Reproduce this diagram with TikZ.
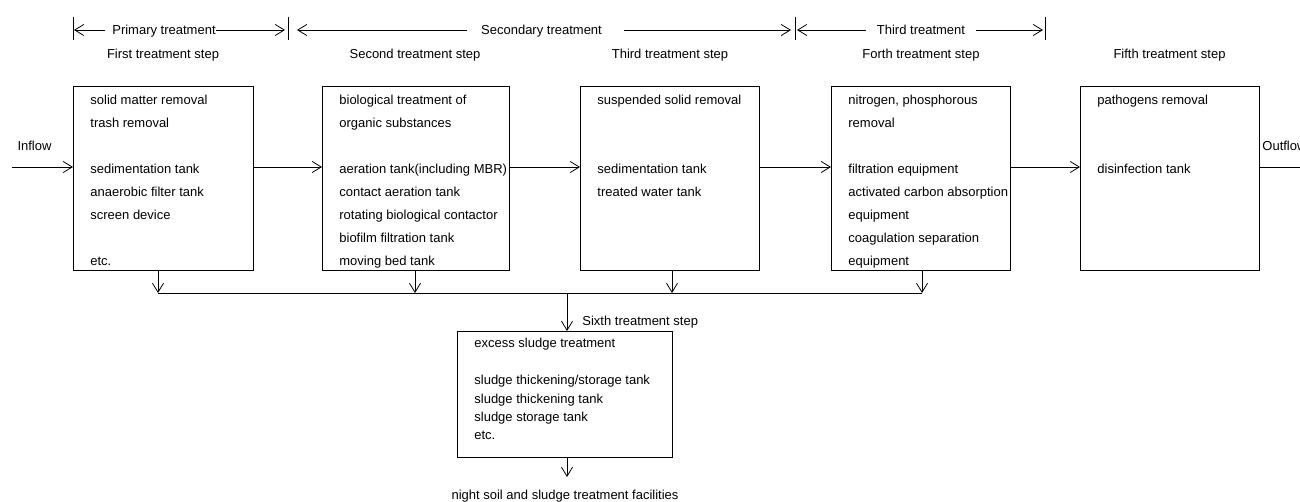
\documentclass[tikz,border=0pt]{standalone}
\usepackage{fontspec}
\setmainfont{Liberation Sans}
\usetikzlibrary{arrows.meta}
\begin{document}
\begin{tikzpicture}[x=1pt,y=-1pt,line width=0.8pt,
  arr/.style={-{Straight Barb[length=9pt,width=11pt]}},
  box/.style={draw,inner sep=0pt,anchor=north west},
  lbl/.style={inner sep=0pt,text height=9.4pt,text depth=0pt,font=\fontsize{13}{15}\selectfont},
  ln/.style={lbl,anchor=west}]
\useasboundingbox (0,0) rectangle (1300,502);

% top brackets
\coordinate (k1) at (73,30);
\coordinate (k2) at (288,30);
\coordinate (k3) at (795,30);
\coordinate (k4) at (1045,30);
\foreach \k in {k1,k2,k3,k4}
  \draw ([yshift=13pt]\k) -- ([yshift=-10pt]\k);
\node[lbl] (prim) at (164,30) {Primary treatment};
\node[lbl] (sec) at (541.5,30) {Secondary treatment};
\node[lbl] (thr) at (921,30) {Third treatment};
\coordinate (s1) at (105,30);
\coordinate (s2) at (467,30);
\coordinate (s3) at (624,30);
\coordinate (s4) at (866,30);
\coordinate (s5) at (976,30);
\draw[arr] (s1) -- ([xshift=1pt]k1);
\draw[arr] (prim.east) -- ([xshift=-3pt]k2);
\draw[arr] (s2) -- ([xshift=9pt]k2);
\draw[arr] (s3) -- ([xshift=-4pt]k3);
\draw[arr] (s4) -- ([xshift=2pt]k3);
\draw[arr] (s5) -- ([xshift=-2pt]k4);

% step labels
\node[lbl] (st1) at (163,54) {First treatment step};
\node[lbl] (st2) at (415,54) {Second treatment step};
\node[lbl] (st3) at (670,54) {Third treatment step};
\node[lbl] (st4) at (921,54) {Forth treatment step};
\node[lbl] (st5) at (1169.5,54) {Fifth treatment step};

% boxes
\node[box,minimum width=180pt,minimum height=184pt] (b1) at (73,86) {};
\node[box,minimum width=187pt,minimum height=184pt] (b2) at (322,86) {};
\node[box,minimum width=179pt,minimum height=184pt] (b3) at (580,86) {};
\node[box,minimum width=179pt,minimum height=184pt] (b4) at (831,86) {};
\node[box,minimum width=179pt,minimum height=184pt] (b5) at (1080,86) {};
\node[box,minimum width=215pt,minimum height=126pt] (b6) at (457,331) {};

% box texts
\foreach \yy/\t [count=\i] in {100/solid matter removal,123/trash removal,169/sedimentation tank,192/anaerobic filter tank,215/screen device,261/etc.}
  \node[ln] (ta\i) at (90,\yy) {\t};
\foreach \yy/\t [count=\i] in {100/biological treatment of,123/organic substances,169/aeration tank(including MBR),192/contact aeration tank,215/rotating biological contactor,238/biofilm filtration tank,261/moving bed tank}
  \node[ln] (tb\i) at (339,\yy) {\t};
\foreach \yy/\t [count=\i] in {100/suspended solid removal,169/sedimentation tank,192/treated water tank}
  \node[ln] (tc\i) at (597,\yy) {\t};
\foreach \yy/\t [count=\i] in {100/{nitrogen, phosphorous},123/removal,169/filtration equipment,192/activated carbon absorption,215/equipment,238/coagulation separation,261/equipment}
  \node[ln] (td\i) at (848,\yy) {\t};
\foreach \yy/\t [count=\i] in {100/pathogens removal,169/disinfection tank}
  \node[ln] (te\i) at (1097,\yy) {\t};
\node[ln] (tf1) at (474,342.7) {excess sludge treatment};
\node[ln] (tf2) at (474,380) {sludge thickening/storage tank};
\node[ln] (tf3) at (474,398.3) {sludge thickening tank};
\node[ln] (tf4) at (474,416.7) {sludge storage tank};
\node[ln] (tf5) at (474,435) {etc.};

% main flow
\coordinate (ay) at (0,167);
\coordinate (inS) at (12,167);
\coordinate (outE) at (1300,167);
\node[lbl] (inflow) at (34.5,146) {Inflow};
\node[ln] (outflow) at (1262,146) {Outflow};
\draw[arr] (inS) -- (b1.west |- ay);
\draw[arr] (b1.east |- ay) -- (b2.west |- ay);
\draw[arr] (b2.east |- ay) -- (b3.west |- ay);
\draw[arr] (b3.east |- ay) -- (b4.west |- ay);
\draw[arr] (b4.east |- ay) -- (b5.west |- ay);
\draw (b5.east |- ay) -- (outE);

% sludge collection
\coordinate (j1) at (158,293);
\coordinate (j2) at (415,293);
\coordinate (j3) at (672,293);
\coordinate (j4) at (922,293);
\coordinate (j0) at (567,293);
\draw[arr] (b1.south -| j1) -- (j1);
\draw[arr] (b2.south -| j2) -- (j2);
\draw[arr] (b3.south -| j3) -- (j3);
\draw[arr] (b4.south -| j4) -- (j4);
\draw (j1) -- (j4);
\draw[arr] (j0) -- (b6.north -| j0);
\node[ln] (sixth) at (582,321) {Sixth treatment step};
\coordinate (nsT) at (567,477);
\draw[arr] (b6.south -| j0) -- (nsT);
\node[lbl] (ns) at (565,495) {night soil and sludge treatment facilities};
\end{tikzpicture}
\end{document}
